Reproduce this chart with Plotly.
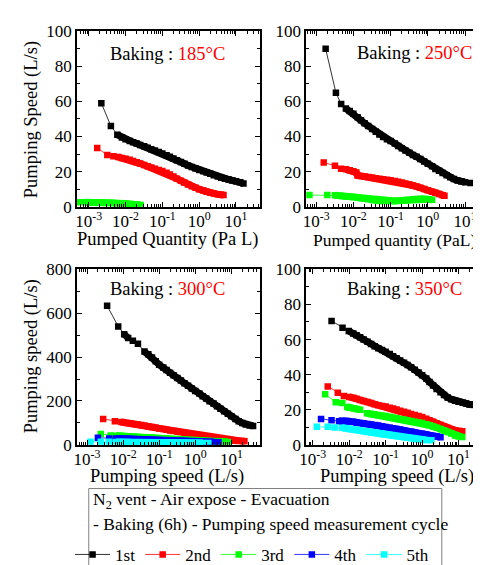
import math
import plotly.graph_objects as go

W, H = 481, 565
FONT = "Liberation Serif, Times New Roman, serif"

# ---------------- data (pumped quantity in Pa L, pumping speed in L/s) ----------------
# Baking 185 C
q185_1st = [0.0022, 0.004, 0.006, 0.008, 0.01, 0.013, 0.016, 0.02, 0.025, 0.032, 0.04, 0.05, 0.063, 0.08, 0.1, 0.13, 0.16, 0.2, 0.25, 0.32, 0.4, 0.5, 0.63, 0.8, 1.0, 1.3, 1.6, 2.0, 2.5, 3.2, 4.0, 5.0, 6.3, 8.0, 10, 13, 16]
s185_1st = [59, 46, 41, 39.5, 38.5, 37.5, 36.8, 36, 35.2, 34.4, 33.6, 32.8, 32, 31.2, 30.3, 29.4, 28.5, 27.5, 26.5, 25.5, 24.5, 23.5, 22.7, 21.8, 21, 20.2, 19.5, 18.8, 18, 17.2, 16.5, 16, 15.5, 15, 14.5, 14, 13.3]
q185_2nd = [0.0017, 0.0032, 0.0047, 0.0063, 0.008, 0.01, 0.013, 0.016, 0.02, 0.025, 0.032, 0.04, 0.05, 0.063, 0.08, 0.1, 0.13, 0.16, 0.2, 0.25, 0.32, 0.4, 0.5, 0.63, 0.8, 1.0, 1.3, 1.6, 2.0, 2.5, 3.2, 4.0, 4.6]
s185_2nd = [33.5, 29.5, 28.8, 28.3, 27.8, 27.3, 26.7, 26, 25.3, 24.6, 23.8, 23, 22.3, 21.6, 21, 20.3, 19.3, 18.3, 17.2, 16, 14.8, 13.7, 12.6, 11.7, 10.8, 10, 9.2, 8.5, 8, 7.5, 7.1, 6.8, 6.7]
q185_3rd = [0.00055, 0.0008, 0.001, 0.0013, 0.0016, 0.002, 0.0025, 0.0032, 0.004, 0.005, 0.0063, 0.008, 0.01, 0.013, 0.016, 0.02, 0.026]
s185_3rd = [2.6, 2.6, 2.6, 2.5, 2.5, 2.4, 2.4, 2.3, 2.2, 2.1, 2.0, 1.9, 1.8, 1.6, 1.4, 1.2, 1.0]

# Baking 250 C
q250_1st = [0.0018, 0.0034, 0.0047, 0.0063, 0.008, 0.01, 0.013, 0.016, 0.02, 0.025, 0.032, 0.04, 0.05, 0.063, 0.08, 0.1, 0.13, 0.16, 0.2, 0.25, 0.32, 0.4, 0.5, 0.63, 0.8, 1.0, 1.3, 1.6, 2.0, 2.5, 3.2, 4.0, 5.0, 6.3, 8.0, 10, 14]
s250_1st = [90, 65, 58.5, 56, 54.5, 53, 51, 49.3, 47.6, 46, 44.3, 42.7, 41.2, 39.8, 38.5, 37.5, 36, 34.6, 33.3, 32, 30.7, 29.5, 28.5, 27.2, 25.8, 24.5, 23, 21.5, 20.5, 19.2, 18, 16.8, 15.8, 15, 14.4, 14, 13.5]
q250_2nd = [0.0016, 0.0032, 0.0047, 0.0063, 0.008, 0.01, 0.012, 0.013, 0.016, 0.02, 0.025, 0.032, 0.04, 0.05, 0.063, 0.08, 0.1, 0.13, 0.16, 0.2, 0.25, 0.32, 0.4, 0.5, 0.63, 0.8, 1.0, 1.3, 1.6, 2.0, 2.5, 2.8]
s250_2nd = [25.2, 23.4, 21.6, 21.3, 20.8, 20.2, 19.5, 17.8, 17.5, 17.2, 16.9, 16.6, 16.3, 16, 15.7, 15.4, 15.1, 14.7, 14.3, 13.8, 13.3, 12.7, 12.1, 11.5, 10.8, 10.1, 9.4, 8.6, 7.9, 7.2, 6.6, 6.3]
q250_3rd = [0.00066, 0.002, 0.0032, 0.004, 0.005, 0.0063, 0.008, 0.01, 0.013, 0.016, 0.02, 0.025, 0.032, 0.04, 0.05, 0.063, 0.08, 0.1, 0.13, 0.16, 0.2, 0.25, 0.32, 0.4, 0.5, 0.63, 0.8, 1.0, 1.3]
s250_3rd = [6.7, 6.7, 6.5, 6.3, 6.1, 5.9, 5.7, 5.5, 5.2, 4.9, 4.6, 4.3, 3.9, 3.5, 3.3, 3.2, 3.2, 3.2, 3.3, 3.4, 3.6, 3.8, 4.0, 4.2, 4.4, 4.5, 4.5, 4.3, 4.0]

# Baking 300 C
q300_1st = [0.0036, 0.0073, 0.0107, 0.0138, 0.0186, 0.0257, 0.039, 0.05, 0.063, 0.08, 0.1, 0.13, 0.16, 0.2, 0.25, 0.32, 0.4, 0.5, 0.63, 0.8, 1.0, 1.3, 1.6, 2.0, 2.5, 3.2, 4.0, 5.0, 6.3, 8.0, 10, 13, 16, 20, 25, 32, 40]
s300_1st = [634, 540, 504, 487, 475, 461, 425, 413, 398, 381, 365, 353, 341, 329, 317, 305, 293, 281, 269, 257, 245, 234, 222, 211, 199, 188, 176, 165, 153, 142, 130, 118, 108, 100, 93, 88, 86]
q300_2nd = [0.0028, 0.0059, 0.0089, 0.01, 0.013, 0.016, 0.02, 0.025, 0.032, 0.04, 0.05, 0.063, 0.08, 0.1, 0.13, 0.16, 0.2, 0.25, 0.32, 0.4, 0.5, 0.63, 0.8, 1.0, 1.3, 1.6, 2.0, 2.5, 3.2, 4.0, 5.0, 6.3, 8.0, 10, 13, 16, 20, 23]
s300_2nd = [118, 108, 104, 103, 100, 98, 95, 93, 90, 87, 84, 81, 78, 75, 72, 69, 66, 63, 60, 57, 54, 51, 48, 45, 42, 39, 36, 33, 30, 28, 26, 24, 22, 20, 19, 18, 17, 16.5]
q300_3rd = [0.0024, 0.0045, 0.0063, 0.008, 0.01, 0.013, 0.016, 0.02, 0.025, 0.032, 0.04, 0.05, 0.063, 0.08, 0.1, 0.13, 0.16, 0.2, 0.25, 0.32, 0.4, 0.5, 0.63, 0.8, 1.0, 1.3, 1.6, 2.0, 2.5, 3.2, 4.0, 5.0, 6.3, 8.0]
s300_3rd = [50, 43, 42, 41, 40, 39, 38, 37, 36, 35, 34, 33, 32, 31, 30, 29, 28, 27, 26, 25, 24, 23, 22, 21, 20, 19, 18, 17, 16, 15.5, 15, 14.5, 14, 13.5]
q300_4th = [0.002, 0.0041, 0.0063, 0.008, 0.01, 0.013, 0.016, 0.02, 0.025, 0.032, 0.04, 0.05, 0.063, 0.08, 0.1, 0.13, 0.16, 0.2, 0.25, 0.32, 0.4, 0.5, 0.63, 0.8, 1.0, 1.3, 1.6, 2.0, 2.5, 3.2, 4.4]
s300_4th = [32, 29, 29, 28.5, 28, 27.5, 27, 26.5, 26, 25, 24.5, 24, 23, 22.5, 22, 21, 20.5, 20, 19, 18.5, 18, 17, 16, 15.5, 15, 14.5, 14, 13.5, 13, 12.5, 12]
q300_5th = [0.00125, 0.0024, 0.004, 0.0063, 0.008, 0.01, 0.013, 0.016, 0.02, 0.025, 0.032, 0.04, 0.05, 0.063, 0.08, 0.1, 0.13, 0.16, 0.2, 0.25, 0.32, 0.4, 0.5, 0.63, 0.8, 1.0, 1.3, 1.6, 2.3]
s300_5th = [14, 14, 14, 13, 13, 12.5, 12.5, 12.3, 12.2, 12, 11.8, 11.6, 11.4, 11.2, 11, 10.8, 10.6, 10.4, 10.2, 10, 9.8, 9.6, 9.5, 9.4, 9.3, 9.2, 9.1, 9, 9]

# Baking 350 C
q350_1st = [0.0033, 0.0066, 0.0098, 0.013, 0.016, 0.02, 0.025, 0.032, 0.04, 0.05, 0.063, 0.08, 0.1, 0.13, 0.16, 0.2, 0.25, 0.32, 0.4, 0.5, 0.63, 0.8, 1.0, 1.3, 1.6, 2.0, 2.5, 3.2, 4.0, 5.0, 6.3, 8.0, 10, 13, 16, 20, 25, 33]
s350_1st = [70.6, 66.7, 64.9, 63.5, 62.5, 61.3, 60, 58.8, 57.5, 56.2, 55, 54, 53, 51.8, 50.5, 49.3, 48, 46.8, 45.5, 44.2, 42.8, 41.2, 39.6, 37.8, 35.8, 33.8, 31.8, 30, 28.4, 27, 26, 25.2, 24.5, 24, 23.5, 23, 22.9, 22.8]
q350_2nd = [0.0026, 0.0049, 0.0072, 0.01, 0.013, 0.016, 0.02, 0.025, 0.032, 0.04, 0.05, 0.063, 0.08, 0.1, 0.13, 0.16, 0.2, 0.25, 0.32, 0.4, 0.5, 0.63, 0.8, 1.0, 1.3, 1.6, 2.0, 2.5, 3.2, 4.0, 5.0, 6.3, 8.0, 10, 12.6]
s350_2nd = [33.3, 29.7, 27.9, 27.3, 26.8, 26.2, 25.6, 25, 24.4, 23.8, 23.2, 22.6, 22.2, 21.8, 21.2, 20.7, 20.1, 19.5, 18.9, 18.3, 17.6, 17, 16.4, 15.8, 14.9, 14, 13.1, 12.2, 11.3, 10.4, 9.6, 8.9, 8.3, 7.9, 7.7]
q350_3rd = [0.0022, 0.0043, 0.0065, 0.0089, 0.01, 0.013, 0.016, 0.02, 0.031, 0.04, 0.05, 0.063, 0.08, 0.1, 0.13, 0.16, 0.2, 0.25, 0.32, 0.4, 0.5, 0.63, 0.8, 1.0, 1.3, 1.6, 2.0, 2.5, 3.2, 4.0, 5.0, 6.3, 8.0, 10, 12.6]
s350_3rd = [28.8, 24.3, 23.8, 21.6, 21.3, 20.8, 20.4, 20, 18, 17.6, 17.3, 17, 16.7, 16.4, 16, 15.6, 15.2, 14.8, 14.4, 14, 13.6, 13.2, 12.8, 12.4, 11.8, 11.2, 10.5, 9.8, 9, 8.2, 7.3, 6.4, 5.4, 4.8, 4.5]
q350_4th = [0.0017, 0.0033, 0.0053, 0.0063, 0.008, 0.01, 0.013, 0.016, 0.02, 0.025, 0.032, 0.04, 0.05, 0.063, 0.08, 0.1, 0.13, 0.16, 0.2, 0.25, 0.32, 0.4, 0.5, 0.63, 0.8, 1.0, 1.3, 1.6, 2.0, 2.5, 3.2]
s350_4th = [14.8, 14, 13.5, 13.8, 13.6, 13.4, 13.1, 12.8, 12.5, 12.2, 11.9, 11.6, 11.3, 11, 10.6, 10.2, 9.8, 9.4, 9, 8.6, 8.2, 7.8, 7.4, 7, 6.6, 6.3, 5.9, 5.5, 5.1, 4.7, 4.4]
q350_5th = [0.0013, 0.0026, 0.004, 0.0063, 0.008, 0.01, 0.013, 0.016, 0.02, 0.025, 0.032, 0.04, 0.05, 0.063, 0.08, 0.1, 0.13, 0.16, 0.2, 0.25, 0.32, 0.4, 0.5, 0.63, 0.8, 1.0, 1.3, 1.8]
s350_5th = [10.3, 10.3, 9.9, 9.7, 9.4, 9.1, 8.7, 8.4, 8, 7.7, 7.3, 7, 6.7, 6.4, 6.1, 5.8, 5.5, 5.2, 4.9, 4.6, 4.3, 4, 3.7, 3.4, 3.2, 3.0, 2.8, 2.6]

cycle_names = ["1st", "2nd", "3rd", "4th", "5th"]
cycle_colors = ["#000000", "#FF0000", "#00FF00", "#0000FF", "#00FFFF"]
temperatures = ["185°C", "250°C", "300°C", "350°C"]
log_tickvals = [1e-3, 1e-2, 1e-1, 1, 10]
log_ticktext = ["10<sup>-3</sup>", "10<sup>-2</sup>", "10<sup>-1</sup>", "10<sup>0</sup>", "10<sup>1</sup>"]

panels = [
    [(q185_1st, s185_1st), (q185_2nd, s185_2nd), (q185_3rd, s185_3rd)],
    [(q250_1st, s250_1st), (q250_2nd, s250_2nd), (q250_3rd, s250_3rd)],
    [(q300_1st, s300_1st), (q300_2nd, s300_2nd), (q300_3rd, s300_3rd), (q300_4th, s300_4th), (q300_5th, s300_5th)],
    [(q350_1st, s350_1st), (q350_2nd, s350_2nd), (q350_3rd, s350_3rd), (q350_4th, s350_4th), (q350_5th, s350_5th)],
]

DENSE_GAP = 0.125  # decades: closely spaced measurements merge into a band

fig = go.Figure()
for p, series in enumerate(panels):
    sfx = "" if p == 0 else str(p + 1)
    for i, (xs, ys) in enumerate(series):
        fig.add_trace(go.Scatter(
            x=xs, y=ys, mode="lines+markers", name=cycle_names[i],
            xaxis="x" + sfx, yaxis="y" + sfx,
            line=dict(color=cycle_colors[i], width=0.8),
            marker=dict(symbol="square", size=6.5, color=cycle_colors[i], line=dict(width=0)),
            showlegend=(p == 3), legendgroup=cycle_names[i],
        ))
        bx, by = [], []
        for k in range(len(xs) - 1):
            if math.log10(xs[k + 1] / xs[k]) <= DENSE_GAP:
                if bx and bx[-1] == xs[k]:
                    bx.append(xs[k + 1]); by.append(ys[k + 1])
                else:
                    if bx:
                        bx.append(None); by.append(None)
                    bx += [xs[k], xs[k + 1]]; by += [ys[k], ys[k + 1]]
        fig.add_trace(go.Scatter(
            x=bx, y=by, mode="lines", xaxis="x" + sfx, yaxis="y" + sfx,
            line=dict(color=cycle_colors[i], width=7),
            showlegend=False, hoverinfo="skip", legendgroup=cycle_names[i],
        ))

def px(x):
    return x / W

def py(y):
    return 1 - y / H

cols = [(63, 249), (296, 480)]
rows = [(15, 200), (266, 451)]
xranges = [[-3.32, 1.65], [-3.27, 1.59], [-3.28, 1.79], [-3.18, 1.78]]
yranges = [[0, 100], [0, 100], [0, 800], [0, 100]]
ydticks = [20, 20, 200, 20]

axcommon = dict(
    showline=True, linewidth=1.6, linecolor="black", mirror="allticks",
    ticks="inside", ticklen=5, tickwidth=1.4, tickcolor="black",
    showgrid=False, zeroline=False,
    tickfont=dict(family=FONT, size=17, color="black"),
)

layout_axes = {}
for p in range(4):
    c = cols[p % 2]
    r = rows[p // 2]
    sfx = "" if p == 0 else str(p + 1)
    layout_axes["xaxis" + sfx] = dict(
        axcommon, type="log", range=xranges[p],
        domain=[px(c[0]), px(c[1])], anchor="y" + sfx,
        tickmode="array", tickvals=log_tickvals, ticktext=log_ticktext,
        ticklabelstandoff=-2,
        minor=dict(ticks="inside", ticklen=3, tickwidth=1, tickcolor="black", dtick="D1", showgrid=False),
    )
    layout_axes["yaxis" + sfx] = dict(
        axcommon, range=yranges[p],
        domain=[py(r[1]), py(r[0])], anchor="x" + sfx,
        tickmode="linear", tick0=0, dtick=ydticks[p],
        minor=dict(ticks="inside", ticklen=3, tickwidth=1, tickcolor="black", dtick=ydticks[p] / 2, showgrid=False),
    )

annotations = []
def text(x, y, s, size=18.5, angle=0, xanchor="center"):
    annotations.append(dict(
        x=px(x), y=py(y), xref="paper", yref="paper", text=s, showarrow=False,
        textangle=angle, xanchor=xanchor, yanchor="middle",
        font=dict(family=FONT, size=size, color="black"),
    ))

text(17, 108, "Pumping Speed (L/s)", angle=-90)
text(17, 358, "Pumping speed (L/s)", angle=-90)
text(155, 235, "Pumped Quantity (Pa L)")
text(386, 235, "Pumped quantity (PaL)", size=17.5)
text(155, 484, "Pumping speed (L/s)")
text(388, 484, "Pumping speed (L/s)")

baking_pos = [(155, 39), (406, 38), (155, 287), (396, 287)]
for (bx_, by_), t in zip(baking_pos, temperatures):
    text(bx_, by_, "Baking : <span style='color:#FF0000'>" + t + "</span>", size=18.5)

text(77, 510, "N<sub>2</sub> vent - Air expose - Evacuation", size=17.5, xanchor="left")
text(77, 534, "- Baking (6h) - Pumping speed measurement cycle", size=17.5, xanchor="left")

shapes = [dict(type="rect", xref="paper", yref="paper",
               x0=px(75), x1=px(434), y0=py(497), y1=py(600),
               line=dict(color="#808080", width=1), fillcolor="rgba(0,0,0,0)")]

fig.update_layout(
    width=W, height=H,
    margin=dict(l=0, r=0, t=0, b=0),
    paper_bgcolor="white", plot_bgcolor="white",
    font=dict(family=FONT, size=17, color="black"),
    annotations=annotations, shapes=shapes,
    showlegend=True,
    legend=dict(orientation="h", x=px(56), y=py(548), xanchor="left", yanchor="top",
                bgcolor="rgba(0,0,0,0)", borderwidth=0, itemwidth=35,
                font=dict(family=FONT, size=17, color="black"),
                itemclick=False, tracegroupgap=0),
    **layout_axes,
)

fig.write_html("out.html")
